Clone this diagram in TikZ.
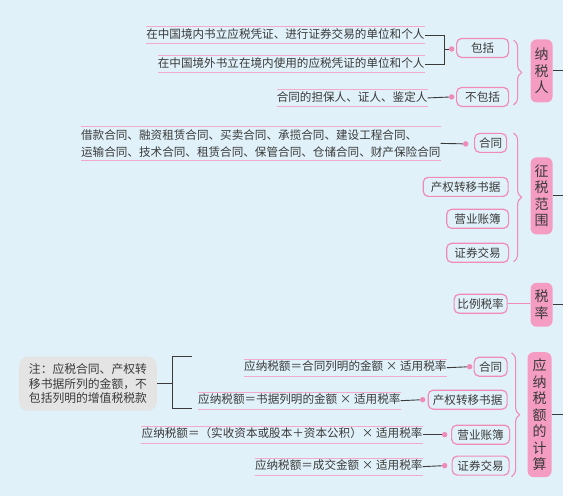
\documentclass[tikz,border=0pt]{standalone}
\usepackage{xcolor,tikz,fontspec}
\setmainfont{Noto Sans CJK SC}
\usetikzlibrary{decorations.pathreplacing}
\definecolor{bgblue}{HTML}{E0F1F9}
\definecolor{pinkfill}{HTML}{F59CC3}
\definecolor{pinkline}{HTML}{F08BB8}
\definecolor{rulepink}{HTML}{F3A9CA}
\definecolor{inkgrey}{HTML}{3A3A3A}
\definecolor{notegrey}{HTML}{E4E4E4}

\begin{document}
\begin{tikzpicture}[x=1pt,y=-1pt,
  every node/.style={font=\fontsize{11.6}{14}\selectfont,text=inkgrey},
  mainbox/.style={fill=pinkfill,rounded corners=6pt,minimum width=22,align=center,inner sep=2pt,font=\fontsize{14}{16.5}\selectfont},
  subbox/.style={draw=pinkline,line width=1.2pt,fill=bgblue,rounded corners=5pt,minimum height=19,inner xsep=3pt,inner ysep=2pt},
  ruled/.style={anchor=east,inner xsep=0pt,inner ysep=2.5pt,text height=9pt,text depth=2.5pt},
  rule/.style={draw=rulepink,line width=0.7pt},
  dot/.style={circle,fill=pinkline,inner sep=0pt,minimum size=5.5pt},
  link/.style={draw=inkgrey,line width=0.9pt},
  pinkbrace/.style={draw=pinkline,line width=1.1pt,decorate,decoration={brace,amplitude=8pt}}]
\fill[bgblue] (0,0) rectangle (563,496);

% 纳税人
\node[mainbox,minimum height=63] (nsr) at (542,71) {纳\\税\\人};
\node[subbox,minimum width=52] (bk) at (483,48) {包括};
\node[subbox,minimum width=52] (bbk) at (483,97) {不包括};
\node[dot] (d1) at (452,49) {};
\node[dot] (d2) at (452,97) {};
\node[ruled] (t1) at (425,35) {在中国境内书立应税凭证、进行证券交易的单位和个人};
\node[ruled] (t2) at (425,64) {在中国境外书立在境内使用的应税凭证的单位和个人};
\node[ruled] (t3) at (428,98) {合同的担保人、证人、鉴定人};
\coordinate (j1) at (445,49);
\coordinate (e1) at (563,71);
\draw[link] (t1.east) -| (j1) |- (t2.east);
\draw[link] (j1) -- (d1);
\draw[link] (t3.east) -- (d2);
\draw[pinkbrace] (514,40) -- (514,105);
\draw[link] (nsr) -- (e1);

% 征税范围
\node[mainbox,minimum height=77] (zsfw) at (542,196) {征\\税\\范\\围};
\node[subbox,minimum width=32] (zht) at (491,143) {合同};
\node[subbox,minimum width=85] (zcq) at (466,187) {产权转移书据};
\node[subbox,minimum width=62] (zyz) at (478,219) {营业账簿};
\node[subbox,minimum width=62] (zzj) at (478,253) {证券交易};
\node[dot] (d3) at (466,144) {};
\node[anchor=east,align=left,inner xsep=0pt,inner ysep=3pt,font=\fontsize{11.6}{17}\selectfont] (hetxt) at (441,143.5)
  {借款合同、融资租赁合同、买卖合同、承揽合同、建设工程合同、\\运输合同、技术合同、租赁合同、保管合同、仓储合同、财产保险合同};
\coordinate (e2) at (563,196);
\draw[link] (hetxt.east) -- (d3);
\draw[pinkbrace] (514,133) -- (514,262);
\draw[link] (zsfw) -- (e2);

% 税率
\node[mainbox,minimum height=44] (sl) at (542,305) {税\\率};
\node[subbox,minimum width=53] (bl) at (481,304) {比例税率};
\coordinate (e3) at (563,305);
\draw[draw=pinkline,line width=1.1pt] (bl.east) -- (bl.east -| sl.west);
\draw[link] (sl) -- (e3);

% 应纳税额的计算
\node[mainbox,minimum height=125,minimum width=24] (ynse) at (540,415) {应\\纳\\税\\额\\的\\计\\算};
\node[subbox,minimum width=33] (jht) at (491,367) {合同};
\node[subbox,minimum width=79] (jcq) at (468,400) {产权转移书据};
\node[subbox,minimum width=58] (jyz) at (481,435) {营业账簿};
\node[subbox,minimum width=57] (jzj) at (481,466) {证券交易};
\node[dot] (d4) at (470,367) {};
\node[dot] (d5) at (423,400) {};
\node[dot] (d6) at (445,435) {};
\node[dot] (d7) at (445,466) {};
\node[ruled] (f1) at (447,368) {应纳税额＝合同列明的金额 × 适用税率};
\node[ruled] (f2) at (401,401) {应纳税额＝书据列明的金额 × 适用税率};
\node[ruled] (f3) at (423,435) {应纳税额＝（实收资本或股本＋资本公积）× 适用税率};
\node[ruled] (f4) at (423,467) {应纳税额＝成交金额 × 适用税率};
\draw[link] (f1.east) -- (d4);
\draw[link] (f2.east) -- (d5);
\draw[link] (f3.east) -- (d6);
\draw[link] (f4.east) -- (d7);
\coordinate (e4) at (563,415);
\draw[pinkbrace] (512,353) -- (512,477);
\draw[link] (ynse) -- (e4);

% 注
\node[fill=notegrey,rounded corners=9pt,align=left,minimum width=138,minimum height=54,font=\fontsize{11.8}{14.3}\selectfont] (note) at (88,384)
  {注：应税合同、产权转\\移书据所列的金额，不\\包括列明的增值税税款};
\coordinate (nb) at (173,384);
\coordinate (nbt) at (192,357);
\coordinate (nbb) at (192,409);
\draw[link] (note) -- (nb);
\draw[link] (nbt) -| (nb) |- (nbb);

% pink rules above and below texts
\foreach \t in {t1,t2,t3,hetxt,f1,f2,f3,f4}
  \draw[rule] (\t.north west) -- (\t.north east) (\t.south west) -- (\t.south east);
\end{tikzpicture}
\end{document}
